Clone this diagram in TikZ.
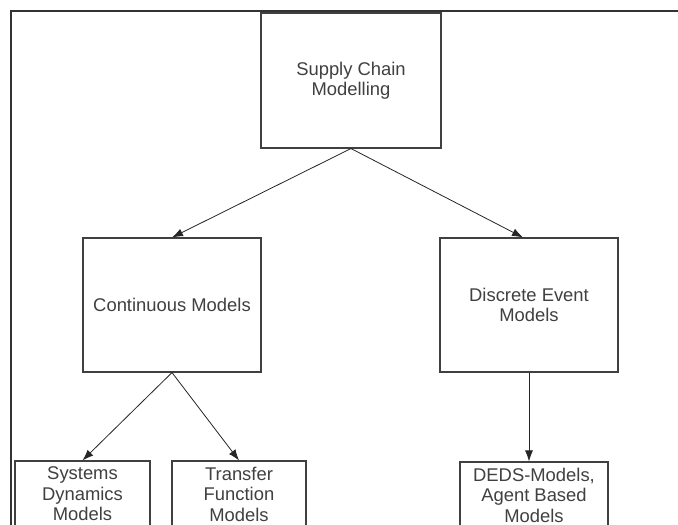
\documentclass[tikz,border=0pt]{standalone}
\usepackage{fontspec}
\setmainfont{Liberation Sans}
\usetikzlibrary{arrows.meta}

\begin{document}
\begin{tikzpicture}[>={Latex[length=11pt,width=8pt]},x=1pt,y=-1pt]
	
	% ------------------------------------------------------------
	% Styles (plain gray boxes, thin dark lines)
	% ------------------------------------------------------------
	\tikzset{
		frame/.style={line width=1.4pt,draw=black!80},
		box/.style={draw=black!75,line width=1.1pt,text=black!75,
			align=center,inner sep=0pt,
			font=\fontsize{18.4}{20.5}\selectfont},
		link/.style={->,line width=0.8pt,draw=black!85}
	}
	
	\useasboundingbox (0,0) rectangle (678,525);
	\clip (0,0) rectangle (678,525);
	\fill[white] (0,0) rectangle (678,525);
	
	% Outer frame (right and bottom edges lie outside the page)
	\draw[frame] (11,11) rectangle (700,560);
	
	% ============================================================
	% TOP: the whole field
	% ============================================================
	\node[box,minimum width=180,minimum height=135] (scm) at (351,80.5)
	{Supply Chain\\Modelling};
	
	% ============================================================
	% MIDDLE: the two families of models
	% ============================================================
	\node[box,minimum width=178,minimum height=134] (cont) at (172,305)
	{Continuous Models};
	\node[box,minimum width=178,minimum height=134] (disc) at (529,305)
	{Discrete Event\\Models};
	
	% ============================================================
	% BOTTOM: concrete model types (cut off by the page edge)
	% ============================================================
	\node[box,minimum width=135,minimum height=66] (sdm) at (82.5,494)
	{Systems\\Dynamics\\Models};
	\node[box,minimum width=134,minimum height=66] (tfm) at (239,494)
	{Transfer\\Function\\Models};
	\node[box,minimum width=148,minimum height=66] (deds) at (534,495)
	{DEDS-Models,\\Agent Based\\Models};
	
	% ============================================================
	% Arrows
	% ============================================================
	\draw[link] (scm.south) -- (cont.north);
	\draw[link] (scm.south) -- ([xshift=-6pt]disc.north);
	\draw[link] (cont.south) -- (sdm.north);
	\draw[link] (cont.south) -- (tfm.north);
	\draw[link] (disc.south) -- (disc.south |- deds.north);
	
\end{tikzpicture}
\end{document}
